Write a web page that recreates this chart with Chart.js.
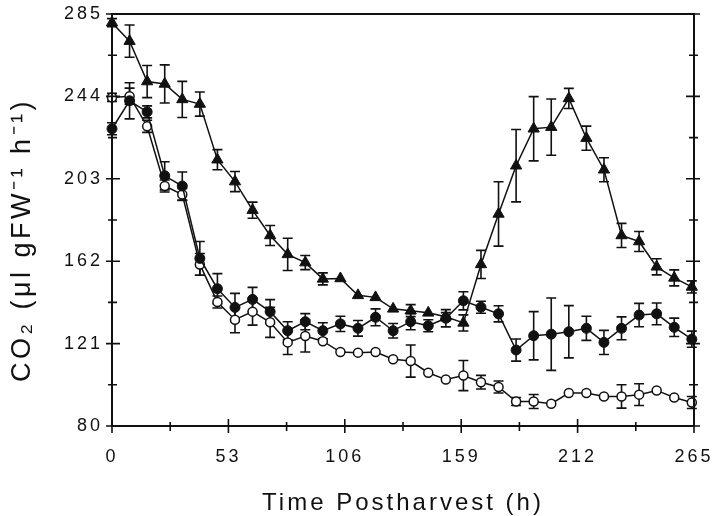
<!DOCTYPE html>
<html lang="en">
  <head>
    <meta charset="UTF-8">
    <title>CO2 postharvest</title>
    <script src="https://cdn.jsdelivr.net/npm/chart.js"></script>
    <style>
      html, body { margin: 0; padding: 0; background: #fff; }
    </style>
  </head>

  <body>
    <div style="width: 717px; height: 516px;">
      <canvas id="grafico"></canvas>
    </div>

    <script>
      // time points (h)
      const horas = [0, 8, 16, 24, 32, 40, 48, 56, 64, 72, 80, 88, 96, 104, 112, 120, 128,
                     136, 144, 152, 160, 168, 176, 184, 192, 200, 208, 216, 224, 232, 240, 248, 256, 264]

      // filled triangles
      const triangulos = [280.7, 271.5, 251.4, 250.2, 242.5, 240.2, 212.5, 201.6, 187.4, 174.8, 165.4, 161.3,
                          153.2, 153.4, 145.0, 144.0, 138.3, 137.4, 136.3, 134.4, 131.3, 160.4, 185.5, 209.5,
                          227.9, 228.7, 243.0, 223.2, 207.5, 174.8, 171.8, 159.2, 153.7, 149.2]
      const errTriangulos = [2, 8, 8, 9.5, 9, 6, 5, 5, 4, 5, 8, 3.5, 3, 0, 0, 0, 0, 3, 0, 2, 4, 7,
                             16, 18, 16, 14, 5, 6, 6, 6, 5, 4, 4, 3]

      // filled circles
      const cheios = [227.9, 241.8, 236.3, 204.5, 199.4, 163.4, 148.3, 139.0, 143.0, 136.9, 127.4, 131.9,
                      127.4, 130.8, 128.6, 134.1, 127.4, 131.9, 129.9, 133.6, 142.3, 139.1, 135.8, 117.8,
                      124.9, 125.7, 126.9, 128.6, 121.6, 128.6, 135.2, 135.8, 129.1, 123.2]
      const errCheios = [3, 9, 3, 7, 7, 8.4, 7.5, 7, 6, 6, 4.5, 4, 4, 3.8, 3.9, 4.2, 3.6, 4, 3, 4.3, 4.5, 3,
                         4, 5.5, 12, 18, 13, 6, 6, 5.7, 5.8, 5.4, 4.6, 4]

      // open circles
      const vazios = [243.5, 244.1, 229.1, 199.4, 195.2, 160.4, 141.7, 132.9, 136.9, 131.6, 121.6, 124.8,
                      122.2, 116.8, 116.5, 116.8, 113.2, 112.3, 106.5, 103.1, 105.1, 101.8, 99.4, 92.2,
                      92.2, 91.1, 96.4, 96.4, 94.7, 94.7, 95.6, 97.7, 94.2, 91.7]
      const errVazios = [2, 4, 3, 3, 3, 5.4, 3, 6.5, 6.7, 7.5, 6, 8, 0, 0, 0, 0, 0, 8, 0, 0, 7.5, 3.4,
                         3, 2, 3.5, 0, 0, 0, 0, 5.8, 5.4, 0, 0, 3]

      const ticksX = [0, 53, 106, 159, 212, 265]
      const ticksY = [80, 121, 162, 203, 244, 285]

      const tituloX = "Time Postharvest (h)"
      const tituloY = "CO\u2082 (\u03bcl gFW\u207b\u00b9 h\u207b\u00b9)"

      const tinta = '#111'
      const fonte = '"Liberation Sans", Arial, sans-serif'

      const pontos = (valores) => horas.map((h, i) => ({ x: h, y: valores[i] }))

      // error bars under the markers
      const barrasErro = {
        id: 'barrasErro',
        beforeDatasetsDraw(chart) {
          const { ctx, scales: { x, y } } = chart
          const series = [[triangulos, errTriangulos], [cheios, errCheios], [vazios, errVazios]]
          ctx.save()
          ctx.strokeStyle = tinta
          ctx.lineWidth = 1.6
          series.forEach(([medias, erros]) => {
            horas.forEach((h, i) => {
              const e = erros[i]
              if (!e) return
              const px = x.getPixelForValue(h)
              const topo = y.getPixelForValue(medias[i] + e)
              const base = y.getPixelForValue(medias[i] - e)
              ctx.beginPath()
              ctx.moveTo(px, topo); ctx.lineTo(px, base)
              ctx.moveTo(px - 5, topo); ctx.lineTo(px + 5, topo)
              ctx.moveTo(px - 5, base); ctx.lineTo(px + 5, base)
              ctx.stroke()
            })
          })
          ctx.restore()
        }
      }

      // frame, crossing ticks and axis titles
      const moldura = {
        id: 'moldura',
        beforeDraw(chart) {
          chart.ctx.letterSpacing = '3px'
        },
        afterDraw(chart) {
          const { ctx, chartArea: a, scales: { x, y } } = chart
          ctx.save()
          ctx.strokeStyle = tinta
          ctx.lineWidth = 2
          ctx.strokeRect(a.left, a.top, a.right - a.left, a.bottom - a.top)

          ctx.lineWidth = 1.6
          ctx.beginPath()
          ticksY.forEach((v, i) => {
            const py = y.getPixelForValue(v)
            ctx.moveTo(a.left - 6, py); ctx.lineTo(a.left + 8, py)
            ctx.moveTo(a.right - 8, py); ctx.lineTo(a.right + 6, py)
            if (i < ticksY.length - 1) {
              const pm = y.getPixelForValue((v + ticksY[i + 1]) / 2)
              ctx.moveTo(a.left - 4, pm); ctx.lineTo(a.left + 5, pm)
              ctx.moveTo(a.right - 5, pm); ctx.lineTo(a.right + 4, pm)
            }
          })
          ticksX.forEach((v, i) => {
            const px = x.getPixelForValue(v)
            ctx.moveTo(px, a.bottom - 7); ctx.lineTo(px, a.bottom + 7)
            if (i < ticksX.length - 1) {
              const pm = x.getPixelForValue((v + ticksX[i + 1]) / 2)
              ctx.moveTo(pm, a.bottom - 4); ctx.lineTo(pm, a.bottom + 5)
            }
          })
          ctx.stroke()

          ctx.fillStyle = tinta
          ctx.letterSpacing = '3px'
          ctx.font = '24px ' + fonte
          ctx.textAlign = 'center'
          ctx.textBaseline = 'middle'
          ctx.fillText(tituloX, (a.left + a.right) / 2, 503)

          ctx.translate(23, 240)
          ctx.rotate(-Math.PI / 2)
          ctx.font = '27px ' + fonte
          ctx.letterSpacing = '3.5px'
          ctx.fillText(tituloY, 0, 0)
          ctx.restore()
        }
      }

      const ctx = document.getElementById('grafico')

      new Chart(ctx, {
        type: 'line',
        data: {
          datasets: [
            {
              label: 'triangulos',
              data: pontos(triangulos),
              borderColor: tinta,
              borderWidth: 1.5,
              pointStyle: 'triangle',
              pointRadius: 6.5,
              pointBackgroundColor: tinta,
              pointBorderColor: tinta,
              pointBorderWidth: 1
            },
            {
              label: 'cheios',
              data: pontos(cheios),
              borderColor: tinta,
              borderWidth: 1.5,
              pointStyle: 'circle',
              pointRadius: 5,
              pointBackgroundColor: tinta,
              pointBorderColor: tinta,
              pointBorderWidth: 1
            },
            {
              label: 'vazios',
              data: pontos(vazios),
              borderColor: tinta,
              borderWidth: 1.5,
              pointStyle: 'circle',
              pointRadius: 4.5,
              pointBackgroundColor: '#fff',
              pointBorderColor: tinta,
              pointBorderWidth: 1.5
            }
          ]
        },
        options: {
          responsive: true,
          maintainAspectRatio: false,
          animation: false,
          clip: false,
          layout: { padding: { top: 14, right: 23, bottom: 0, left: 0 } },
          plugins: {
            legend: { display: false },
            tooltip: { enabled: false }
          },
          elements: { line: { tension: 0 } },
          scales: {
            x: {
              type: 'linear',
              min: 0,
              max: 265,
              afterFit: (s) => { s.height = 90 },
              afterBuildTicks: (s) => { s.ticks = ticksX.map(v => ({ value: v })) },
              grid: { display: false, drawTicks: true, tickLength: 20 },
              border: { display: false },
              ticks: { color: tinta, padding: 0, maxRotation: 0, font: { family: fonte, size: 18 } }
            },
            y: {
              min: 80,
              max: 285,
              afterFit: (s) => { s.width = 112 },
              afterBuildTicks: (s) => { s.ticks = ticksY.map(v => ({ value: v })) },
              grid: { display: false, drawTicks: true, tickLength: 9 },
              border: { display: false },
              ticks: { color: tinta, padding: 0, font: { family: fonte, size: 18 } }
            }
          }
        },
        plugins: [barrasErro, moldura]
      })
    </script>
  </body>
</html>
